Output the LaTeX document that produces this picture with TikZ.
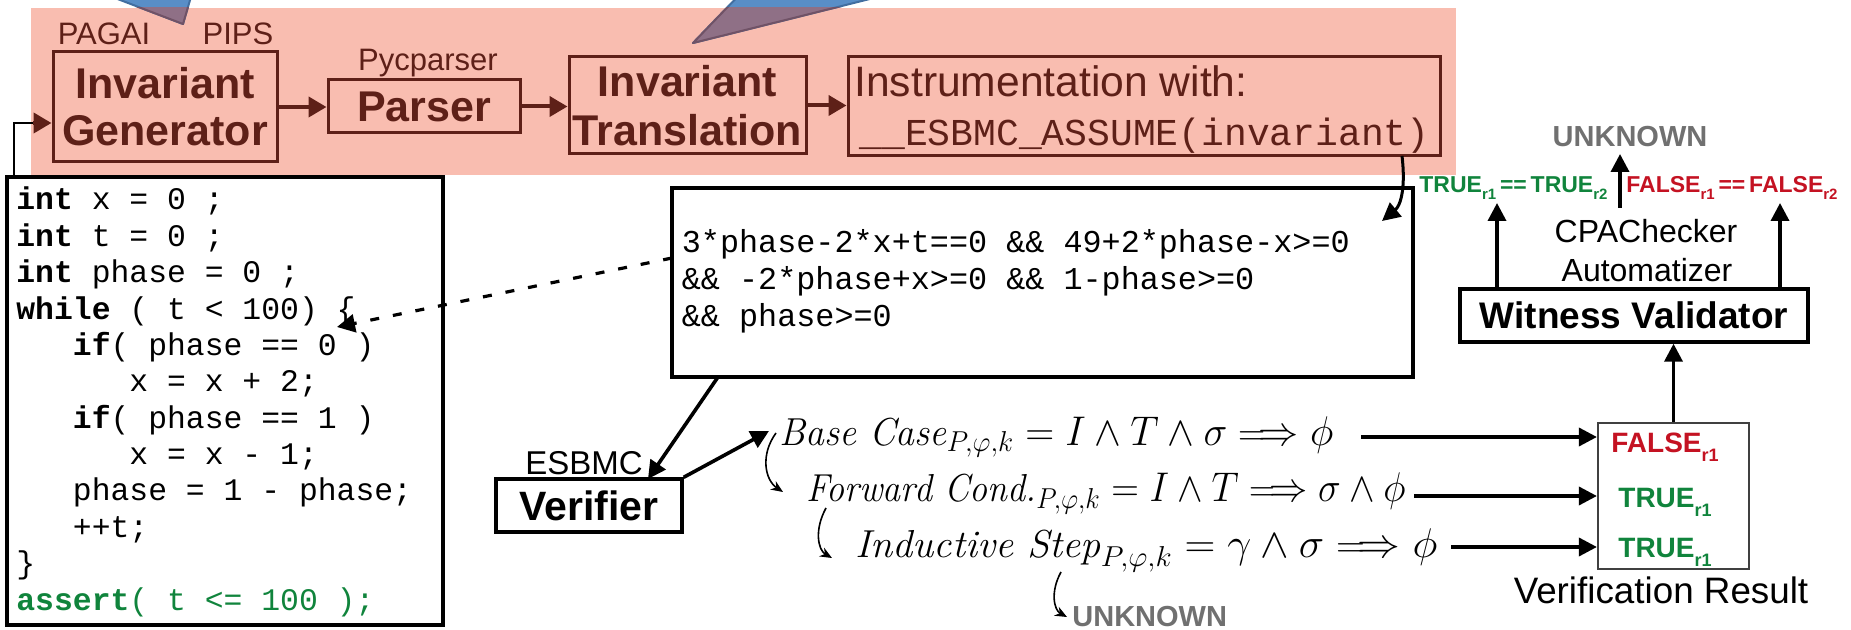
\documentclass[tikz,border=0pt]{standalone}
\usepackage{amsmath,amssymb}
\usepackage{graphicx}
\usepackage{fontspec}
\newfontfamily\arial{Liberation Sans}
\newfontfamily\cour{Liberation Mono}
\usetikzlibrary{arrows.meta,calc}
\definecolor{pinkbg}{RGB}{249,189,176}
\definecolor{brn}{RGB}{94,32,24}
\definecolor{tblue}{RGB}{89,142,199}
\definecolor{tblueline}{RGB}{66,110,160}
\definecolor{tmauve}{RGB}{143,112,134}
\definecolor{tmauveline}{RGB}{112,82,102}
\definecolor{okgreen}{RGB}{16,132,60}
\definecolor{badred}{RGB}{196,18,34}
\definecolor{unkgray}{RGB}{112,112,112}
\newcommand\fsz[2]{\fontsize{#1}{#2}\selectfont}
\newcommand\lsub[1]{\raisebox{-3.5pt}{\fsz{7.5pt}{7.5pt}#1}}
\newcommand\rsub[1]{\raisebox{-4.5pt}{\fsz{9pt}{9pt}#1}}
\newcommand\fitw[2]{\resizebox{#1}{\height}{#2}}
\tikzset{
  brbox/.style={draw=brn, line width=1.5pt, inner sep=0pt, text=brn, align=center},
  bkbox/.style={draw=black, line width=1.7pt, inner sep=0pt, align=center},
  brarr/.style={draw=brn, line width=2pt, -{Triangle[length=9pt,width=10pt]}},
  arr/.style={draw=black, line width=1.8pt, -{Triangle[length=9pt,width=9pt]}},
  thinarr/.style={draw=black, line width=0.8pt, -{Stealth[length=6pt,width=5pt]}},
  dasharr/.style={draw=black, line width=1.6pt, dash pattern=on 4.5pt off 7pt, -{Triangle[length=9pt,width=9pt]}},
  codeln/.style={anchor=base west, inner sep=0pt, font=\cour\fsz{15.7pt}{18pt}},
  invln/.style={anchor=base west, inner sep=0pt, font=\cour\fsz{15.9pt}{18pt}},
  toplbl/.style={anchor=base, inner sep=0pt, text=brn, font=\arial\fsz{15.5pt}{18pt}},
  formula/.style={anchor=base west, inner sep=0pt, font=\fsz{19.5pt}{22pt}},
  unk/.style={inner sep=0pt, text=unkgray, font=\arial\bfseries\fsz{14.5pt}{16pt}},
  reslbl/.style={anchor=base west, inner sep=0pt, font=\arial\bfseries\fsz{14pt}{16pt}},
  cmplbl/.style={anchor=base west, inner sep=0pt, font=\arial\bfseries\fsz{11.5pt}{13pt}},
  plain/.style={anchor=base, inner sep=0pt, font=\arial\fsz{16pt}{18pt}},
  wedge1/.style={line width=1pt, line join=round},
}
\begin{document}
\begin{tikzpicture}[x=0.5pt,y=-0.5pt]
\useasboundingbox (0,0) rectangle (1851,630);
\clip (0,0) rectangle (1851,630);
% pink band
\fill[pinkbg] (31,8) rectangle (1456,175);
% callout wedges
\path[wedge1, fill=tblue, draw=tblueline] (94,-10) -- (183,24) -- (193,-10) -- cycle;
\path[wedge1, fill=tblue, draw=tblueline] (744,-10) -- (693,43) -- (906,-10) -- cycle;
\begin{scope}
  \clip (31,8) rectangle (1456,175);
  \path[wedge1, fill=tmauve, draw=tmauveline] (94,-10) -- (183,24) -- (193,-10) -- cycle;
  \path[wedge1, fill=tmauve, draw=tmauveline] (744,-10) -- (693,43) -- (906,-10) -- cycle;
\end{scope}

% top row boxes
\node[brbox, minimum width=112pt, minimum height=55pt, font=\arial\bfseries\fsz{21.5pt}{23.5pt}] (gen) at (165,107) {Invariant\\Generator};
\node[brbox, minimum width=96pt, minimum height=26.5pt, font=\arial\bfseries\fsz{21.5pt}{23.5pt}] (par) at (424,106.5) {Parser};
\node[brbox, minimum width=118.5pt, minimum height=48.5pt, font=\arial\bfseries\fsz{21.5pt}{24.5pt}] (tra) at (687.5,105.5) {Invariant\\Translation};
\node[brbox, minimum width=296pt, minimum height=49.5pt] (ins) at (1144,106.5) {};
\node[anchor=base west, inner sep=0pt, text=brn, font=\arial\fsz{21.3pt}{24pt}] (ins1) at (854,97) {Instrumentation with:};
\node[anchor=base west, inner sep=0pt, text=brn, font=\cour\fsz{19pt}{22pt}] (ins2) at (859,146) {\_\_ESBMC\_ASSUME(invariant)};

\node[toplbl] (pagai) at (104,45) {PAGAI};
\node[toplbl] (pips) at (238,45) {PIPS};
\node[toplbl] (pyc) at (428,71) {Pycparser};

\draw[brarr] (gen.east) -- (gen.east -| par.west);
\draw[brarr] (par.east) -- (par.east -| tra.west);
\draw[brarr] (tra.east) -- (tra.east -| ins.west);

% code box
\node[bkbox, minimum width=218pt, minimum height=224pt] (code) at (225,401) {};
\node[codeln] (c1) at (16,210) {\textbf{int} x = 0 ;};
\node[codeln] (c2) at (16,246.4) {\textbf{int} t = 0 ;};
\node[codeln] (c3) at (16,282.7) {\textbf{int} phase = 0 ;};
\node[codeln] (c4) at (16,319.1) {\textbf{while} ( t < 100) \{};
\node[codeln] (c5) at (16,355.5) {\phantom{000}\textbf{if}( phase == 0 )};
\node[codeln] (c6) at (16,391.8) {\phantom{000000}x = x + 2;};
\node[codeln] (c7) at (16,428.2) {\phantom{000}\textbf{if}( phase == 1 )};
\node[codeln] (c8) at (16,464.5) {\phantom{000000}x = x - 1;};
\node[codeln] (c9) at (16,500.9) {\phantom{000}phase = 1 - phase;};
\node[codeln] (c10) at (16,537.3) {\phantom{000}++t;};
\node[codeln] (c11) at (16,573.6) {\}};
\node[codeln, text=okgreen] (c12) at (16,610) {\textbf{assert}( t <= 100 );};

% left feedback connector
\coordinate (lc0) at (14,177);
\coordinate (lc1) at (33,123);
\draw[black, line width=1.4pt] (lc0) |- (lc1);
\draw[brarr] (lc1) -- (lc1 -| gen.west);

% invariant box
\node[bkbox, minimum width=370.5pt, minimum height=94.5pt] (inv) at (1042.5,282.5) {};
\node[invln] (i1) at (681.5,253) {3*phase-2*x+t==0 \&\& 49+2*phase-x>=0};
\node[invln] (i2) at (681.5,290) {\&\& -2*phase+x>=0 \&\& 1-phase>=0};
\node[invln] (i3) at (681.5,327) {\&\& phase>=0};

\coordinate (cst) at (1402,156);
\coordinate (cen) at (1382,221);
\draw[arr, line width=1.5pt] (cst) .. controls (1406,190) and (1400,206) .. (cen);

\coordinate (dstart) at (672,258);
\coordinate (brace) at (337,327);
\draw[dasharr] (dstart) -- (brace);

% verifier
\node[bkbox, minimum width=93pt, minimum height=26.5pt, font=\arial\bfseries\fsz{20.5pt}{22pt}] (ver) at (589,505.5) {Verifier};
\node[anchor=base, inner sep=0pt, font=\arial\fsz{16.5pt}{18pt}] (esbmc) at (584,474) {ESBMC};
\coordinate (iv0) at (718,377);
\coordinate (iv1) at (648,479);
\draw[arr] (iv0) -- (iv1);
\coordinate (vb1) at (769,431);
\draw[arr] (ver.north east) -- (vb1);

% formulas
\node[formula] (fb) at (779,445) {\fitw{277pt}{$\textit{Base Case}_{P,\varphi,k} = I \wedge T \wedge \sigma \Longrightarrow \phi$}};
\node[formula] (ff) at (806,502) {\fitw{299.5pt}{$\textit{Forward Cond.}_{P,\varphi,k} = I \wedge T \Longrightarrow \sigma \wedge \phi$}};
\node[formula] (fi) at (855,557) {\fitw{291pt}{$\textit{Inductive Step}_{P,\varphi,k} = \gamma \wedge \sigma \Longrightarrow \phi$}};

\draw[thinarr] (776,433) .. controls (760,455) and (765,480) .. (783,492);
\draw[thinarr] (826,508) .. controls (814,530) and (818,550) .. (832,558);
\draw[thinarr] (1061,572) .. controls (1050,592) and (1054,610) .. (1067,617);
\node[unk, anchor=base west] (unk2) at (1072,626) {UNKNOWN};

% result box
\node[draw=black!75, line width=1.1pt, inner sep=0pt, minimum width=75.5pt, minimum height=73pt] (res) at (1673.5,496) {};
\node[reslbl, text=badred] (r1) at (1611,452) {FALSE\rsub{r1}};
\node[reslbl, text=okgreen] (r2) at (1618,507) {TRUE\rsub{r1}};
\node[reslbl, text=okgreen] (r3) at (1618,557) {TRUE\rsub{r1}};
\node[anchor=base, inner sep=0pt, font=\arial\fsz{18.4pt}{20pt}] (vres) at (1661,603) {Verification Result};

\coordinate (fa) at (1361,437);
\coordinate (fc) at (1414,496);
\coordinate (fd) at (1451,547);
\draw[arr] (fa) -- (fa -| res.west);
\draw[arr] (fc) -- (fc -| res.west);
\draw[arr] (fd) -- (fd -| res.west);

% witness validator
\node[bkbox, minimum width=174pt, minimum height=26.5pt, font=\arial\bfseries\fsz{18.5pt}{20pt}] (wit) at (1634,315.5) {Witness Validator};
\draw[arr] (res.north) -- (res.north |- wit.south);
\node[plain] (cpa) at (1646,243) {CPAChecker};
\node[plain] (aut) at (1647,282) {Automatizer};

\node[cmplbl, text=okgreen] (tt) at (1419,193) {TRUE\lsub{r1}\,==\,TRUE\lsub{r2}};
\node[cmplbl, text=badred] (ff2) at (1626,193) {FALSE\lsub{r1}\,==\,FALSE\lsub{r2}};
\node[unk, anchor=base] (unk1) at (1630,147) {UNKNOWN};

\coordinate (u1) at (1497,203);
\coordinate (u3) at (1780,203);
\draw[arr] (u1 |- wit.north) -- (u1);
\draw[arr] (u3 |- wit.north) -- (u3);
\coordinate (m0) at (1620,208);
\coordinate (m1) at (1620,154);
\draw[arr] (m0) -- (m1);
\end{tikzpicture}
\end{document}
